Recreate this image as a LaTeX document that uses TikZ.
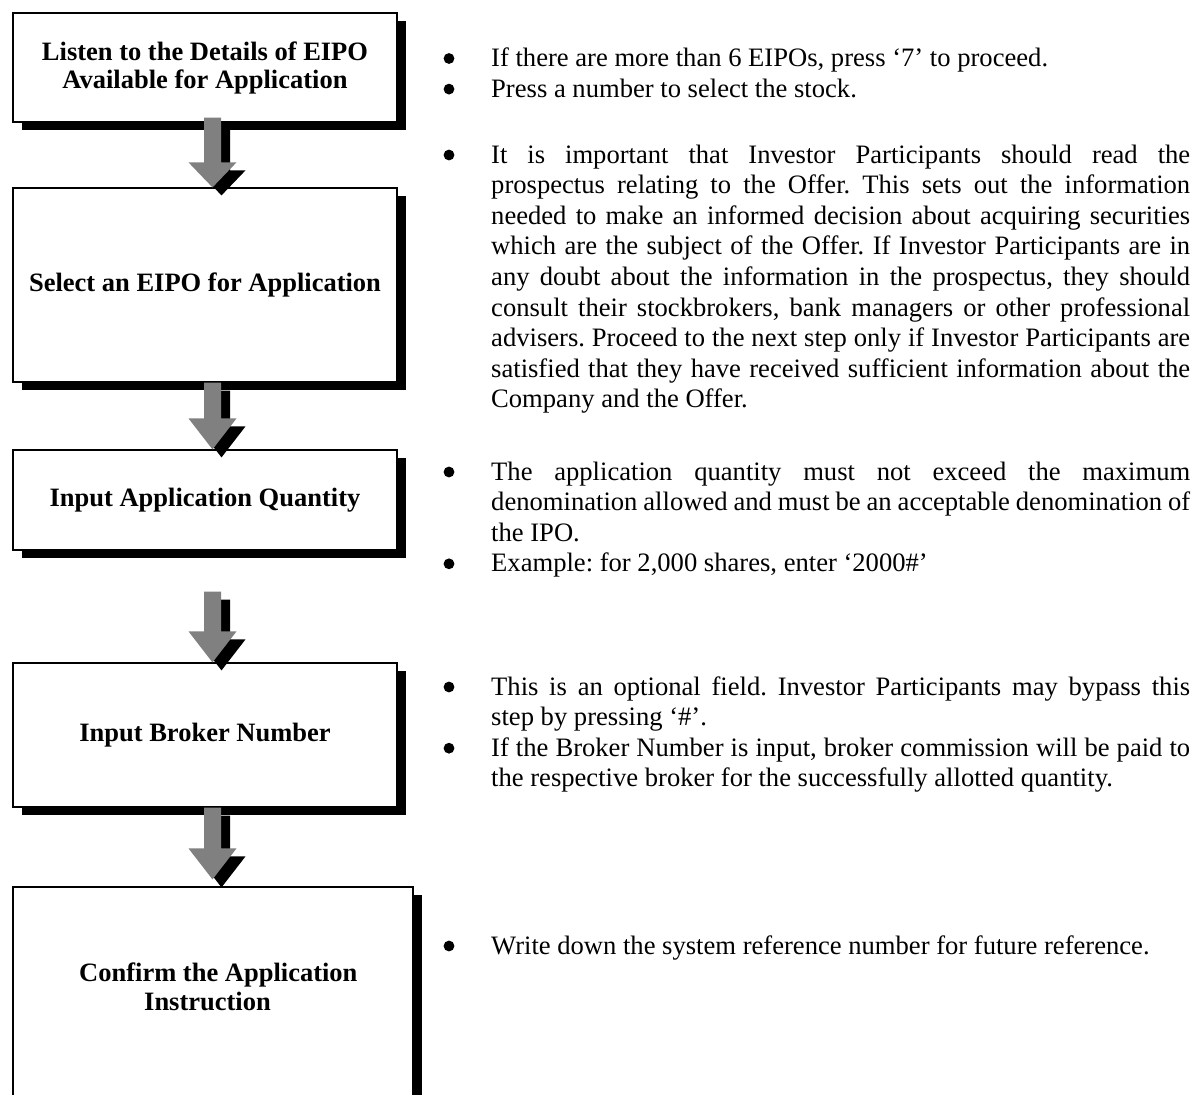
\documentclass[tikz,border=0pt]{standalone}
\usepackage{fontspec}
\setmainfont{Liberation Serif}
\usetikzlibrary{shadows,calc}
\definecolor{arrowgray}{RGB}{128,128,128}
\newcommand{\fatarrow}[3]{%
  \foreach \dx/\dy/\col in {9/-8/black,0/0/arrowgray}{
    \fill[\col] let \p1=(#1), \p2=(#2) in
      (\x2-8.5pt+\dx pt,\y1+\dy pt) -- (\x2+8.5pt+\dx pt,\y1+\dy pt)
      -- (\x2+8.5pt+\dx pt,\y2+#3pt+\dy pt) -- (\x2+24pt+\dx pt,\y2+#3pt+\dy pt)
      -- (\x2+\dx pt,\y2+\dy pt) -- (\x2-24pt+\dx pt,\y2+#3pt+\dy pt)
      -- (\x2-8.5pt+\dx pt,\y2+#3pt+\dy pt) -- cycle;
  }}
% bullet: #1 = text node, #2 = line index (0 = first line)
\newcommand{\bulletat}[2]{\fill ($(#1.base west)+(-42,{-8+30.6*#2})$) circle (5.4pt);}
\tikzset{
  stepbox/.style={draw=black, line width=1.2pt, fill=white, inner sep=0pt,
    align=center, font=\bfseries\fontsize{26.5}{28}\selectfont,
    drop shadow={shadow xshift=9pt, shadow yshift=-8pt, opacity=1, fill=black}},
  boxlabel/.style={inner sep=0pt, align=left, font=\bfseries\fontsize{26.5}{29}\selectfont},
  bodytext/.style={anchor=base west, inner sep=0pt, text width=699pt, align=justify,
    font=\fontsize{26.6}{30.6}\selectfont\frenchspacing},
}
\begin{document}
\begin{tikzpicture}[x=1pt,y=-1pt]
\useasboundingbox (0,0) rectangle (1200,1095);
\clip (0,0) rectangle (1200,1095);
\fill[white] (0,0) rectangle (1200,1095);

% boxes
\node[stepbox, minimum width=384pt, minimum height=109pt] (b1) at (205,67.5)
  {Listen to the Details of EIPO\\Available for Application};
\node[stepbox, minimum width=384pt, minimum height=194pt] (b2) at (205,285)
  {Select an EIPO for Application};
\node[stepbox, minimum width=384pt, minimum height=100pt] (b3) at (205,500)
  {Input Application Quantity};
\node[stepbox, minimum width=384pt, minimum height=144pt] (b4) at (205,735)
  {Input Broker Number};
\node[stepbox, minimum width=400pt, minimum height=260pt] (b5) at (213,1017) {};
\node[boxlabel, anchor=west] (b5t) at (79,987) {Confirm the Application\\\hspace*{65pt}Instruction};

% arrows
\coordinate (ax) at (212.5,0);
\coordinate (a1s) at ($(b1.south -| ax)+(0,-5)$);
\coordinate (a1t) at (b2.north -| ax);
\coordinate (a2s) at (b2.south -| ax);
\coordinate (a2t) at (b3.north -| ax);
\coordinate (a3s) at ($(b3.south -| ax)+(0,41)$);
\coordinate (a3t) at (b4.north -| ax);
\coordinate (a4s) at (b4.south -| ax);
\coordinate (a4t) at ($(b5.north -| ax)+(0,-7)$);
\fatarrow{a1s}{a1t}{25}
\fatarrow{a2s}{a2t}{31}
\fatarrow{a3s}{a3t}{31}
\fatarrow{a4s}{a4t}{31}

% notes
\node[bodytext] (t1) at (491,66.5) {If there are more than 6 EIPOs, press ‘7’ to proceed.\par
Press a number to select the stock.};
\node[bodytext] (t2) at (491,163) {It is important that Investor Participants should read the\linebreak
prospectus relating to the Offer. This sets out the information\linebreak
needed to make an informed decision about acquiring securities\linebreak
which are the subject of the Offer. If Investor Participants are in\linebreak
any doubt about the information in the prospectus, they should\linebreak
consult their stockbrokers, bank managers or other professional\linebreak
advisers. Proceed to the next step only if Investor Participants are\linebreak
satisfied that they have received sufficient information about the\linebreak
Company and the Offer.};
\node[bodytext] (t3) at (491,480) {The application quantity must not exceed the maximum\linebreak
denomination allowed and must be an acceptable denomination of\linebreak
the IPO.\par
Example: for 2,000 shares, enter ‘2000\#’};
\node[bodytext] (t4) at (491,695) {This is an optional field. Investor Participants may bypass this\linebreak
step by pressing ‘\#’.\par
If the Broker Number is input, broker commission will be paid to\linebreak
the respective broker for the successfully allotted quantity.};
\node[bodytext] (t5) at (491,954) {Write down the system reference number for future reference.};

% bullets
\bulletat{t1}{0}
\bulletat{t1}{1}
\bulletat{t2}{0}
\bulletat{t3}{0}
\bulletat{t3}{3}
\bulletat{t4}{0}
\bulletat{t4}{2}
\bulletat{t5}{0}
\end{tikzpicture}
\end{document}
